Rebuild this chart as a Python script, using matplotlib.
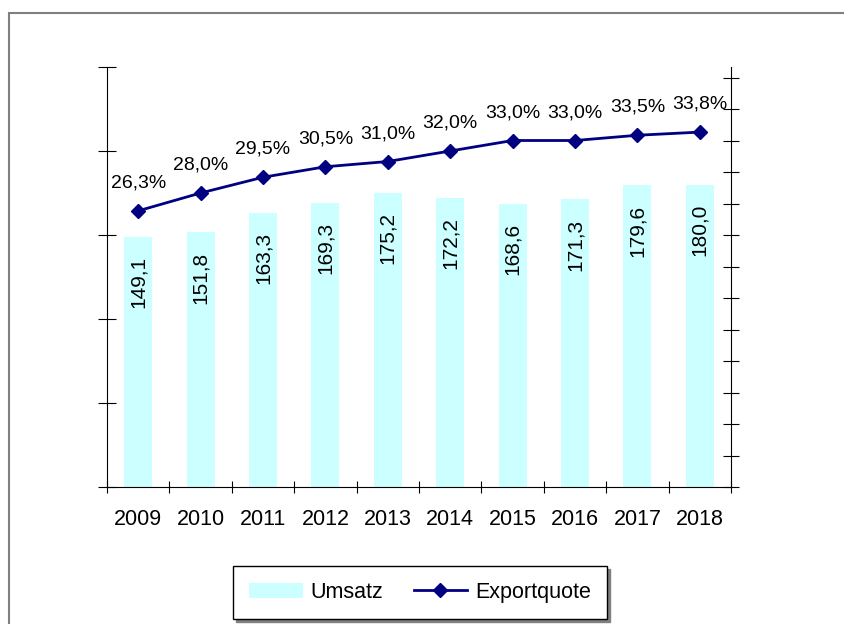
import numpy as np
import matplotlib
matplotlib.use('Agg')
import matplotlib.pyplot as plt
from matplotlib.patches import Rectangle

plt.rcParams['font.family'] = ['Liberation Sans', 'DejaVu Sans']

# data
years = ['2009', '2010', '2011', '2012', '2013', '2014', '2015', '2016', '2017', '2018']
umsatz = [149.1, 151.8, 163.3, 169.3, 175.2, 172.2, 168.6, 171.3, 179.6, 180.0]
exportquote = [26.3, 28.0, 29.5, 30.5, 31.0, 32.0, 33.0, 33.0, 33.5, 33.8]

bar_color = '#CCFFFF'
line_color = '#000080'

fig = plt.figure(figsize=(8.45, 6.24), dpi=100)
ax = fig.add_axes([107/845, 1 - 487/624, (731 - 107)/845, (487 - 67)/624])

x = np.arange(len(years))
bars = ax.bar(x, umsatz, width=0.45, color=bar_color, label='Umsatz', zorder=1)

# bar labels, rotated, just inside the top of each bar
for xi, v in zip(x, umsatz):
    ax.annotate(f'{v:.1f}'.replace('.', ','), (xi, v), xytext=(0, -14),
                textcoords='offset points', rotation=90, ha='center', va='top',
                fontsize=15, zorder=3)

ax.set_xlim(-0.5, len(years) - 0.5)
ax.set_ylim(0, 250)
ax.set_yticks(np.arange(0, 251, 50))
ax.set_yticklabels([])
ax.tick_params(axis='y', direction='inout', length=13, width=0.8)

# category boundaries as major ticks, year labels as minor ticks
ax.set_xticks(np.arange(-0.5, len(years), 1.0))
ax.set_xticklabels([])
ax.set_xticks(x, minor=True)
ax.set_xticklabels(years, minor=True, fontsize=15.5)
ax.tick_params(axis='x', which='major', direction='inout', length=9, width=0.8)
ax.tick_params(axis='x', which='minor', length=0, pad=16)

ax.spines['top'].set_visible(False)
ax.spines['right'].set_visible(False)
for s in ['left', 'bottom']:
    ax.spines[s].set_linewidth(0.8)

ax2 = ax.twinx()
line, = ax2.plot(x, exportquote, color=line_color, lw=2, marker='D', ms=7.5,
                 label='Exportquote', zorder=4)
for xi, v in zip(x, exportquote):
    ax2.annotate(f'{v:.1f}%'.replace('.', ','), (xi, v), xytext=(0, 20),
                 textcoords='offset points', ha='center', va='center', fontsize=14)
ax2.set_ylim(0, 40)
ax2.set_yticks(np.arange(0, 40, 3))
ax2.set_yticklabels([])
ax2.tick_params(axis='y', direction='inout', length=11, width=0.8)
for s in ['top', 'left', 'bottom']:
    ax2.spines[s].set_visible(False)
ax2.spines['right'].set_linewidth(0.8)

leg = fig.legend([bars, line], ['Umsatz', 'Exportquote'], loc='center',
                 bbox_to_anchor=(420/845, 1 - 592.5/624), ncol=2, fontsize=15.5,
                 frameon=True, fancybox=False, edgecolor='black', framealpha=1,
                 handlelength=2.5, handletextpad=0.35, columnspacing=1.4,
                 borderpad=0.75, shadow={'ox': 2, 'oy': -2, 'color': 'gray', 'alpha': 1})
leg.get_frame().set_linewidth(1)

# thin grey frame around the chart area
fig.patches.append(Rectangle((9/845, -0.1), 1.2, 1 - 13/624 + 0.1, transform=fig.transFigure,
                             fill=False, edgecolor='#808080', lw=1.5, clip_on=False))

fig.savefig('out.png', dpi=100)
